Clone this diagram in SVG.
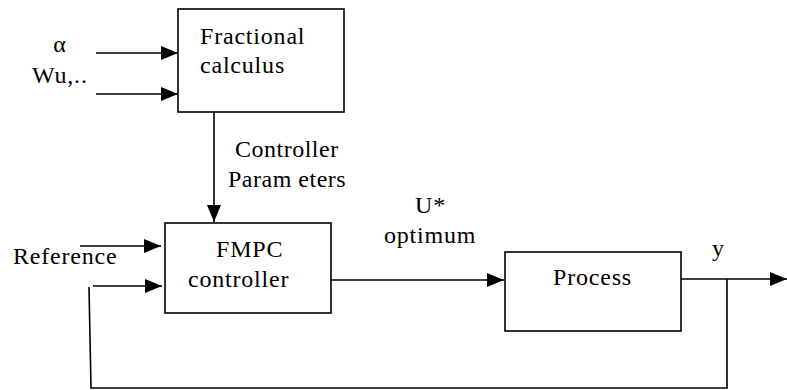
<svg xmlns="http://www.w3.org/2000/svg" width="787" height="390" viewBox="0 0 787 390">
<style>
.box{fill:#fff;stroke:#000;stroke-width:1.6}
.ln{fill:none;stroke:#000;stroke-width:1.6}
.t{font-family:"Liberation Serif","Times New Roman",serif;font-size:24px;fill:#000;letter-spacing:0.8px}
</style>
<defs>
<marker id="ah" markerUnits="userSpaceOnUse" markerWidth="17" markerHeight="14" refX="17" refY="7" orient="auto">
<path d="M0,0 L17,7 L0,14 Z" fill="#000"/>
</marker>
</defs>
<rect width="787" height="390" fill="#fff"/>
<g id="connectors">
<line class="ln" x1="96" y1="53" x2="178" y2="53" marker-end="url(#ah)"/>
<line class="ln" x1="96" y1="94" x2="178" y2="94" marker-end="url(#ah)"/>
<line class="ln" x1="214" y1="112" x2="214" y2="222" marker-end="url(#ah)"/>
<line class="ln" x1="80" y1="246" x2="161" y2="246" marker-end="url(#ah)"/>
<line class="ln" x1="93" y1="286" x2="162" y2="286" marker-end="url(#ah)"/>
<line class="ln" x1="331" y1="280" x2="504" y2="280" marker-end="url(#ah)"/>
<line class="ln" x1="681" y1="279" x2="787" y2="279" marker-end="url(#ah)"/>
<polyline class="ln" points="727,279 727,388 91,388 89,287"/>
</g>
<g id="inputs">
<text class="t" x="60" y="52" text-anchor="middle">α</text>
<text class="t" x="32" y="83">Wu,..</text>
</g>
<g id="fractional">
<rect class="box" x="178" y="9" width="166" height="103"/>
<text class="t" x="200" y="44">Fractional</text>
<text class="t" x="200" y="73">calculus</text>
</g>
<g id="params">
<text class="t" x="235" y="157" style="letter-spacing:0.5px">Controller</text>
<text class="t" x="228" y="187" style="letter-spacing:0.5px">Param eters</text>
</g>
<g id="fmpc">
<rect class="box" x="165" y="223" width="166" height="90"/>
<text class="t" x="216" y="257">FMPC</text>
<text class="t" x="188" y="287">controller</text>
</g>
<g id="reference">
<text class="t" x="13" y="264">Reference</text>
</g>
<g id="uopt">
<text class="t" x="415" y="213">U*</text>
<text class="t" x="384" y="243">optimum</text>
</g>
<g id="process">
<rect class="box" x="505" y="252" width="176" height="79"/>
<text class="t" x="553" y="285">Process</text>
</g>
<g id="output">
<text class="t" x="712" y="256">y</text>
</g>
</svg>
